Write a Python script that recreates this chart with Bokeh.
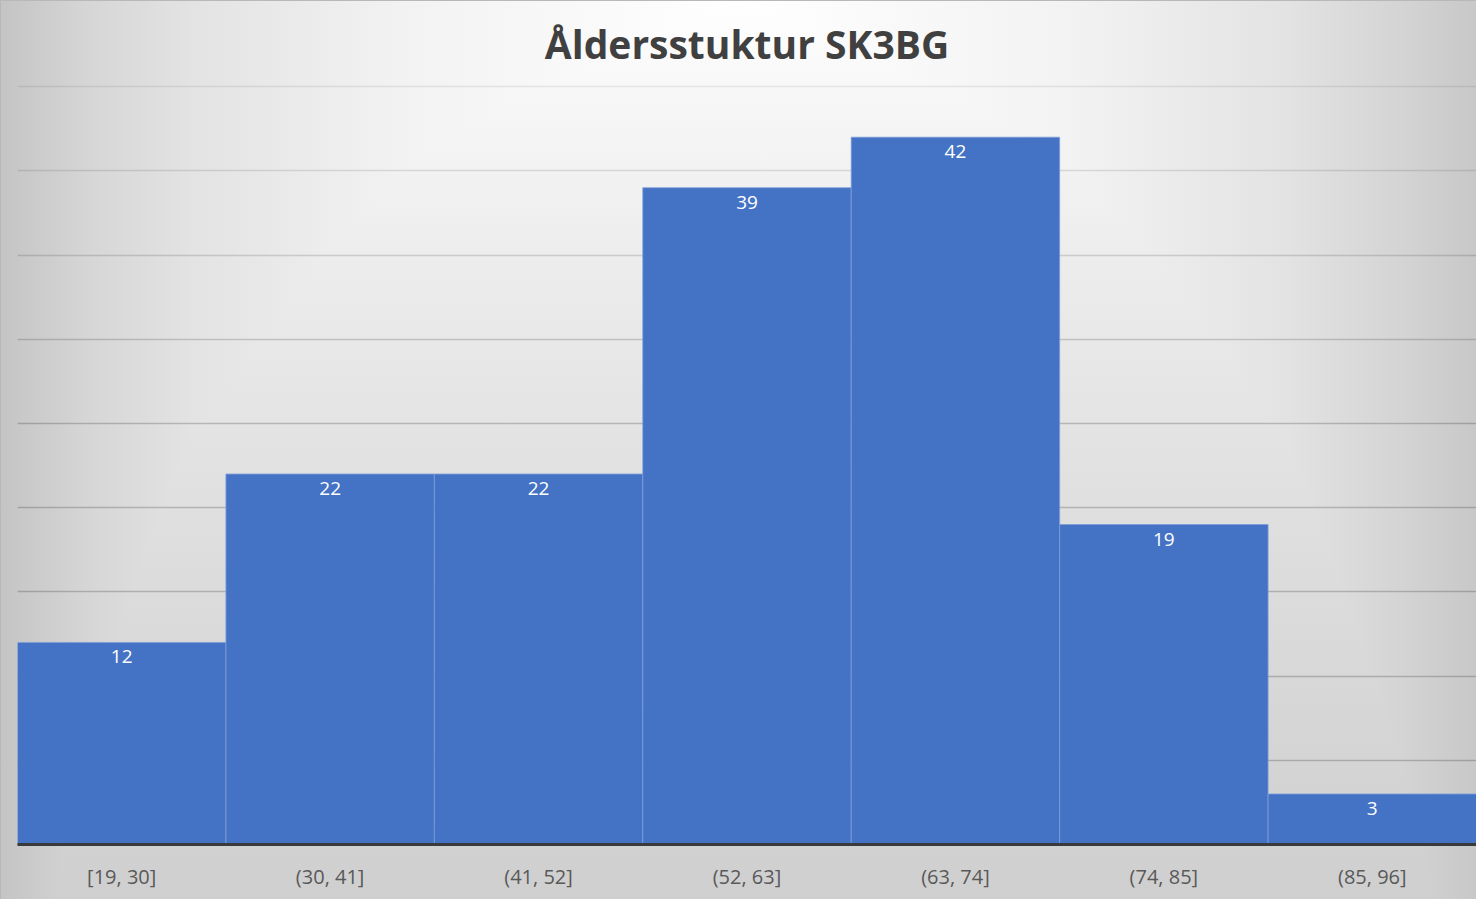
from bokeh.plotting import figure
from bokeh.models import ColumnDataSource, FactorRange, Range1d, FixedTicker, LabelSet, Grid
from bokeh.core.properties import value
from bokeh.embed import file_html
from bokeh.resources import INLINE

# ---- data ----
categories = ["[19, 30]", "(30, 41]", "(41, 52]", "(52, 63]", "(63, 74]", "(74, 85]", "(85, 96]"]
counts = [12, 22, 22, 39, 42, 19, 3]
grid_levels = [5, 10, 15, 20, 25, 30, 35, 40, 45]
title_text = "Åldersstuktur SK3BG"

src = ColumnDataSource(dict(cat=categories, n=counts, lbl=[str(v) for v in counts]))

p = figure(
    width=1476, height=899,
    x_range=FactorRange(*categories, range_padding=0),
    y_range=Range1d(0, 45.25),
    output_backend="svg", toolbar_location=None,
    min_border_left=17, min_border_right=0, min_border_top=82, min_border_bottom=55,
)
p.styles = {
    "background": (
        "linear-gradient(to right, #c4c4c4 0%, #d6d6d6 6%, #e3e3e3 13%, #f2f2f2 27%, #ffffff 50%, "
        "#f2f2f2 73%, #e3e3e3 87%, #d4d4d4 95%, #c8c8c8 100%), "
        "linear-gradient(to bottom, #ffffff 0%, #f6f6f6 12%, #ececec 30%, #e0e0e0 55%, #d6d6d6 80%, #cfcfcf 100%)"
    ),
    "background-blend-mode": "darken",
    "box-shadow": "inset 1px 1px 0 #b8b8b8",
}
p.border_fill_alpha = 0
p.background_fill_alpha = 0
p.outline_line_color = None

# title
p.title.text = title_text
p.title.align = "center"
p.title.text_font = "Open Sans"
p.title.text_font_style = "bold"
p.title.text_font_size = "39px"
p.title.text_color = "#404040"
p.title.standoff = 25

# grid lines (one grid per level, fainter towards the top)
p.xgrid.grid_line_color = None
p.ygrid.grid_line_color = None
for lvl in grid_levels:
    a = 0.20 - 0.12 * max(0, lvl - 25) / 20.0
    p.add_layout(Grid(dimension=1, ticker=FixedTicker(ticks=[lvl]),
                      grid_line_color="black", grid_line_alpha=a, grid_line_width=1.6))

# bars
p.vbar(x="cat", top="n", width=1.0, source=src, fill_color="#4472C4",
       line_color="#7f9dd8", line_width=0.8)

labels = LabelSet(x="cat", y="n", text="lbl", source=src, text_align="center",
                  text_baseline="top", y_offset=-8, text_color="white",
                  text_font=value("Open Sans"), text_font_size=value("19px"))
p.add_layout(labels)

# axes
p.yaxis.visible = False
xa = p.xaxis[0]
xa.axis_line_color = "#3a3a3a"
xa.axis_line_width = 3
xa.major_tick_line_color = None
xa.minor_tick_line_color = None
xa.major_label_text_font = "Open Sans"
xa.major_label_text_font_size = "20px"
xa.major_label_text_color = "#595959"
xa.major_label_standoff = 12

open("out.html", "w").write(file_html(p, INLINE))
